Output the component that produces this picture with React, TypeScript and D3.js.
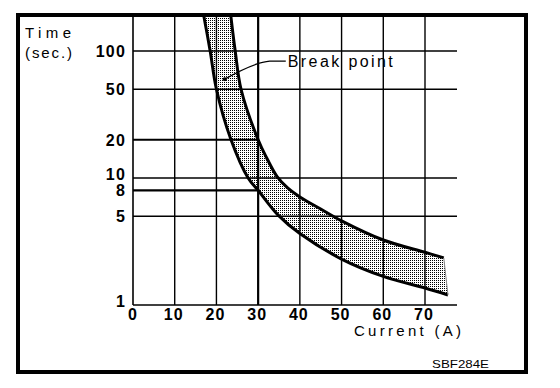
import React, { useEffect, useRef } from 'react';
import * as d3 from 'd3';

// fuse blow characteristic
const xTicks = [0, 10, 20, 30, 40, 50, 60, 70];
const yTicks = [1, 5, 8, 10, 20, 50, 100];
const yGridFull = [5, 10, 50, 100];
const yGridShort = [8, 20]; // only drawn up to 30 A
const shortGridEnd = 30;
const xGrid = [10, 20, 30, 40, 50, 60, 70];

// [current A, time s]
const upperCurve: [number, number][] = [
  [23.4, 195], [24.5, 100], [25.9, 50], [30, 20], [32, 14.5], [34.5, 10.3],
  [37, 8.4], [40, 7.1], [45, 5.7], [50, 4.6], [60, 3.25], [70, 2.6], [74.5, 2.35],
];
const lowerCurve: [number, number][] = [
  [16.9, 195], [18.5, 100], [20, 50], [23.5, 20], [27.6, 10], [30, 8],
  [34.8, 5.1], [40, 3.65], [50, 2.3], [60, 1.68], [70, 1.36], [75.5, 1.2],
];
const breakPoint: [number, number] = [22, 60];
const breakLabel = 'Break point';
const code = 'SBF284E';

export default function App() {
  const svgRef = useRef<SVGSVGElement>(null);

  useEffect(() => {
    if (!svgRef.current) return;
    const svg = d3.select(svgRef.current);
    svg.selectAll('*').remove();

    const W = 560;
    const H = 388;
    const frame = { x0: 18, y0: 15, x1: 526, y1: 372 };
    const plotTop = 17;
    const gridRight = 457;

    const x = d3.scaleLinear().domain([0, 70]).range([133, 425]);
    const y = d3.scaleLog().domain([1, 100]).range([305, 51]);

    svg.attr('width', W).attr('height', H);
    svg.append('rect').attr('width', W).attr('height', H).attr('fill', '#fff');

    const defs = svg.append('defs');
    const pat = defs.append('pattern')
      .attr('id', 'stipple')
      .attr('width', 2).attr('height', 2)
      .attr('patternUnits', 'userSpaceOnUse');
    pat.append('rect').attr('width', 1).attr('height', 1).attr('fill', '#000');
    defs.append('clipPath').attr('id', 'plotClip')
      .append('rect')
      .attr('x', x(0)).attr('y', plotTop)
      .attr('width', frame.x1 - x(0)).attr('height', y(1) - plotTop);

    const g = svg.append('g');

    // grid
    g.selectAll('.vgrid').data(xGrid).join('line')
      .attr('x1', d => x(d)).attr('x2', d => x(d))
      .attr('y1', y(1)).attr('y2', plotTop)
      .attr('stroke', '#000')
      .attr('stroke-width', d => (d === shortGridEnd ? 2.2 : 1.4));

    g.selectAll('.hgrid').data(yGridFull).join('line')
      .attr('x1', x(0)).attr('x2', gridRight)
      .attr('y1', d => y(d)).attr('y2', d => y(d))
      .attr('stroke', '#000').attr('stroke-width', 1.4);

    g.selectAll('.hshort').data(yGridShort).join('line')
      .attr('x1', x(0)).attr('x2', x(shortGridEnd))
      .attr('y1', d => y(d)).attr('y2', d => y(d))
      .attr('stroke', '#000').attr('stroke-width', 2.2);

    // axes
    g.append('line')
      .attr('x1', x(0)).attr('x2', gridRight)
      .attr('y1', y(1)).attr('y2', y(1))
      .attr('stroke', '#000').attr('stroke-width', 1.6);
    g.append('line')
      .attr('x1', x(0)).attr('x2', x(0))
      .attr('y1', y(1)).attr('y2', plotTop)
      .attr('stroke', '#000').attr('stroke-width', 1.6);

    // band
    const line = d3.line<[number, number]>()
      .x(d => x(d[0]))
      .y(d => y(d[1]))
      .curve(d3.curveCatmullRom.alpha(0.5));
    const upPath = line(upperCurve) || '';
    const lowRev = line([...lowerCurve].reverse()) || '';
    const band = g.append('g').attr('clip-path', 'url(#plotClip)');
    band.append('path')
      .attr('d', upPath + 'L' + lowRev.slice(1) + 'Z')
      .attr('fill', 'url(#stipple)')
      .attr('stroke', 'none');
    [upperCurve, lowerCurve].forEach(c => {
      band.append('path')
        .attr('d', line(c))
        .attr('fill', 'none')
        .attr('stroke', '#000')
        .attr('stroke-width', 3);
    });
    // right end of band
    band.append('line')
      .attr('x1', x(upperCurve[upperCurve.length - 1][0]))
      .attr('y1', y(upperCurve[upperCurve.length - 1][1]))
      .attr('x2', x(lowerCurve[lowerCurve.length - 1][0]))
      .attr('y2', y(lowerCurve[lowerCurve.length - 1][1]))
      .attr('stroke', '#888').attr('stroke-width', 1);

    // tick labels
    const font = '"Liberation Sans", Arial, sans-serif';
    g.selectAll('.xlab').data(xTicks).join('text')
      .attr('x', d => x(d) - (d === 0 ? 0 : 1))
      .attr('y', 320)
      .attr('text-anchor', 'middle')
      .attr('font-family', font).attr('font-weight', 'bold')
      .attr('font-size', 16).attr('letter-spacing', 1)
      .text(d => d);

    const yLabOffset = (d: number) => (d === 10 || d === 1 ? 2 : 6);
    g.selectAll('.ylab').data(yTicks).join('text')
      .attr('x', 126)
      .attr('y', d => y(d) + yLabOffset(d))
      .attr('text-anchor', 'end')
      .attr('font-family', font).attr('font-weight', 'bold')
      .attr('font-size', 16).attr('letter-spacing', 1.2)
      .text(d => d);

    // axis titles
    g.append('text').attr('x', 25).attr('y', 38)
      .attr('font-family', font).attr('font-size', 15)
      .attr('textLength', 46).attr('lengthAdjust', 'spacing')
      .text('Time');
    g.append('text').attr('x', 25).attr('y', 58)
      .attr('font-family', font).attr('font-size', 15)
      .attr('textLength', 47).attr('lengthAdjust', 'spacing')
      .text('(sec.)');
    g.append('text').attr('x', 354).attr('y', 336)
      .attr('font-family', font).attr('font-size', 15)
      .attr('textLength', 107).attr('lengthAdjust', 'spacing')
      .text('Current (A)');

    // break point annotation
    const bx = x(breakPoint[0]);
    const by = y(breakPoint[1]);
    g.append('circle').attr('cx', bx).attr('cy', by).attr('r', 2).attr('fill', '#000');
    g.append('path')
      .attr('d', `M${bx},${by} Q${bx + 30},${by - 17} ${bx + 45},${by - 18} L${bx + 61},${by - 18}`)
      .attr('fill', 'none').attr('stroke', '#000').attr('stroke-width', 1.3);
    g.append('text').attr('x', bx + 63).attr('y', by - 12)
      .attr('font-family', font).attr('font-size', 16)
      .attr('textLength', 105).attr('lengthAdjust', 'spacing')
      .text(breakLabel);

    g.append('text').attr('x', 432).attr('y', 368)
      .attr('font-family', font).attr('font-size', 11)
      .attr('textLength', 57).attr('lengthAdjust', 'spacingAndGlyphs')
      .text(code);

    // frame
    svg.append('rect')
      .attr('x', frame.x0).attr('y', frame.y0)
      .attr('width', frame.x1 - frame.x0).attr('height', frame.y1 - frame.y0)
      .attr('fill', 'none').attr('stroke', '#000').attr('stroke-width', 4);
  }, []);

  return (
    <svg
      ref={svgRef}
      viewBox="0 0 560 388"
      style={{ position: 'absolute', left: 0, top: 0, display: 'block' }}
    />
  );
}
